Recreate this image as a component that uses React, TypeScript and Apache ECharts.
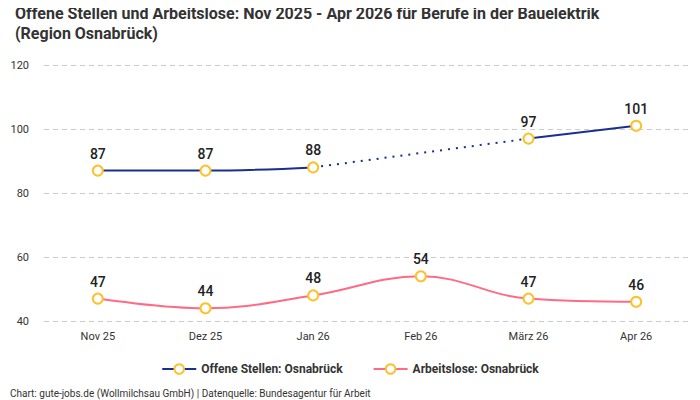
import React, { useEffect, useRef } from "react";
import * as echarts from "echarts";

const categories = ["Nov 25", "Dez 25", "Jan 26", "Feb 26", "März 26", "Apr 26"];
const offeneStellen: (number | null)[] = [87, 87, 88, null, 97, 101];
// bridge across the month without a reported value
const offeneStellenGap: (number | null)[] = [null, null, 88, null, 97, null];
const arbeitslose = [47, 44, 48, 54, 47, 46];
const yTicks = { min: 40, max: 120, interval: 20 };

const BLUE = "#1b2f8f";
const RED = "#ff6b84";
const YELLOW = "#fdc12a";
const FONT = "Roboto, 'Noto Sans', sans-serif";

export default function App() {
  const ref = useRef<HTMLDivElement>(null);
  useEffect(() => {
    if (!ref.current) return;
    const chart = echarts.init(ref.current, undefined, { renderer: "svg" });
    const label = {
      show: true,
      position: "top" as const,
      fontSize: 14,
      fontWeight: 500,
      color: "#222",
      fontFamily: FONT,
      distance: 4,
    };
    chart.setOption({
      animation: false,
      backgroundColor: "#fff",
      textStyle: { fontFamily: FONT },
      title: {
        text: "Offene Stellen und Arbeitslose: Nov 2025 - Apr 2026 für Berufe in der Bauelektrik\n(Region Osnabrück)",
        left: 10,
        top: -2,
        textStyle: {
          fontSize: 16,
          fontWeight: "bold",
          color: "#333",
          lineHeight: 20,
          fontFamily: "'Liberation Sans Narrow', Roboto, sans-serif",
        },
      },
      legend: {
        data: ["Offene Stellen: Osnabrück", "Arbeitslose: Osnabrück"],
        bottom: 20,
        left: "center",
        itemWidth: 34,
        itemHeight: 12,
        itemGap: 30,
        textStyle: { fontSize: 12, fontWeight: "bold", color: "#333" },
      },
      graphic: [
        {
          type: "text",
          left: 10,
          top: 388,
          style: {
            text: "Chart: gute-jobs.de (Wollmilchsau GmbH) | Datenquelle: Bundesagentur für Arbeit",
            fontSize: 10,
            fill: "#333",
            fontFamily: FONT,
          },
        },
      ],
      grid: { left: 44, right: 10, top: 65, bottom: 79, containLabel: false },
      xAxis: {
        type: "category",
        data: categories,
        boundaryGap: true,
        axisLine: { show: false },
        axisTick: { show: false },
        axisLabel: { fontSize: 11, color: "#333", margin: 10 },
      },
      yAxis: {
        type: "value",
        min: yTicks.min,
        max: yTicks.max,
        interval: yTicks.interval,
        axisLabel: { fontSize: 11, color: "#333", margin: 15 },
        splitLine: { lineStyle: { color: "#ccc", type: [5, 4] } },
      },
      series: [
        {
          name: "Offene Stellen: Osnabrück",
          type: "line",
          data: offeneStellen,
          smooth: 0.4,
          connectNulls: false,
          symbol: "circle",
          symbolSize: 10,
          itemStyle: { color: "#fff", borderColor: YELLOW, borderWidth: 2 },
          lineStyle: { color: BLUE, width: 2 },
          label,
          z: 3,
        },
        {
          name: "gap",
          type: "line",
          data: offeneStellenGap,
          connectNulls: true,
          showSymbol: false,
          symbol: "none",
          lineStyle: { color: BLUE, width: 2, type: [2, 6] },
          z: 2,
          silent: true,
        },
        {
          name: "Arbeitslose: Osnabrück",
          type: "line",
          data: arbeitslose,
          smooth: 0.4,
          symbol: "circle",
          symbolSize: 10,
          itemStyle: { color: "#fff", borderColor: YELLOW, borderWidth: 2 },
          lineStyle: { color: RED, width: 2 },
          label,
          z: 3,
        },
      ],
    });
    return () => chart.dispose();
  }, []);
  return <div ref={ref} style={{ width: 700, height: 400, marginLeft: -8, marginTop: -8 }} />;
}
